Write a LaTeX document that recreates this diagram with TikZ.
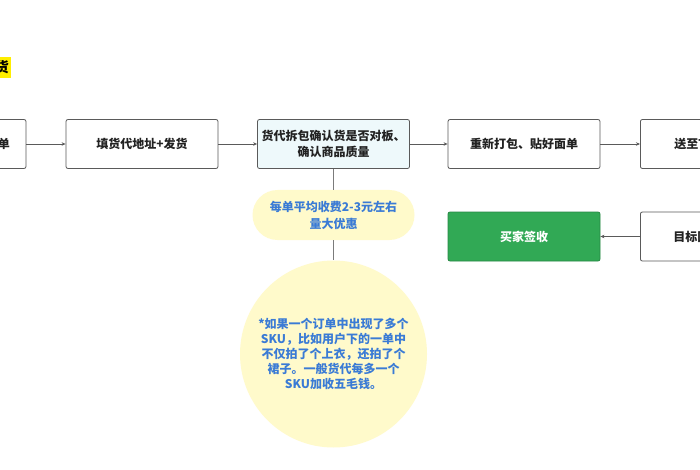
\documentclass[tikz,border=0pt]{standalone}
\usepackage{fontspec}
\setmainfont{Noto Sans CJK SC}
\usetikzlibrary{arrows.meta}
\definecolor{boxline}{HTML}{5A5A5A}
\definecolor{cyanfill}{HTML}{EEF9FB}
\definecolor{pale}{HTML}{FFFACB}
\definecolor{noteblue}{HTML}{3A7BD5}
\definecolor{okgreen}{HTML}{31A955}
\definecolor{hl}{HTML}{FFEE00}
\definecolor{txt}{HTML}{222222}
\tikzset{
  stepbox/.style={draw=boxline, line width=0.8pt, rounded corners=2pt, fill=white,
    minimum width=152pt, minimum height=49pt, inner sep=0pt, align=center,
    font=\bfseries\fontsize{12}{16}\selectfont, text=txt},
  flow/.style={draw=boxline, line width=0.8pt, -{Stealth[length=4pt,width=3.5pt]}},
  link/.style={draw=boxline!80, line width=1.2pt},
  note/.style={fill=pale, draw=none, text=noteblue, align=center,
    font=\bfseries\fontsize{12}{15}\selectfont}
}
\begin{document}
\begin{tikzpicture}[x=1pt,y=-1pt]
\useasboundingbox (0,0) rectangle (700,470);
\clip (0,0) rectangle (700,470);
\fill[white] (0,0) rectangle (700,470);
% heading fragment
\node[fill=hl, inner xsep=2pt, anchor=east, text=black, minimum height=21pt,
  font=\bfseries\fontsize{14}{16}\selectfont] (head) at (11,67.5) {货};
% top row
\node[stepbox] (b0) at (-50,144) {};
\node[anchor=east, inner sep=0pt, font=\bfseries\fontsize{12}{16}\selectfont, text=txt] (t0) at (10,144) {单};
\node[stepbox] (b1) at (142,144) {填货代地址+发货};
\node[stepbox, fill=cyanfill] (b2) at (333.5,144) {货代拆包确认货是否对板、\\确认商品质量};
\node[stepbox] (b3) at (524,144) {重新打包、贴好面单};
\node[stepbox, anchor=west, text width=140pt, align=left, inner xsep=0pt] (b4) at (640,144) {\hspace*{28pt}送至TikTok};
% bottom row
\node[stepbox, fill=okgreen, draw=okgreen!80!black, text=white] (g) at (524,236.5) {买家签收};
\node[stepbox, anchor=west, text width=140pt, align=left] (b5) at (640,236.5) {\hspace*{27pt}目标国家};
% connectors
\draw[flow] (b0.east) -- (b1.west);
\draw[flow] (b1.east) -- (b2.west);
\draw[flow] (b2.east) -- (b3.west);
\draw[flow] (b3.east) -- (b4.west);
\draw[flow] (b5.west) -- (g.east);
% notes
\node[note, rounded corners=25pt, minimum width=162pt, minimum height=50pt, inner sep=0pt,
  font=\bfseries\fontsize{12}{17}\selectfont] (pill) at (333.5,215) {每单平均收费2-3元左右\\量大优惠};
\node[note, circle, minimum size=187pt, inner sep=0pt] (circ) at (333.5,354) {*如果一个订单中出现了多个\\SKU，比如用户下的一单中\\不仅拍了个上衣，还拍了个\\裙子。一般货代每多一个\\SKU加收五毛钱。};
\draw[link] (b2.south) -- (pill.north);
\draw[link] (pill.south) -- (circ.north);
\end{tikzpicture}
\end{document}
